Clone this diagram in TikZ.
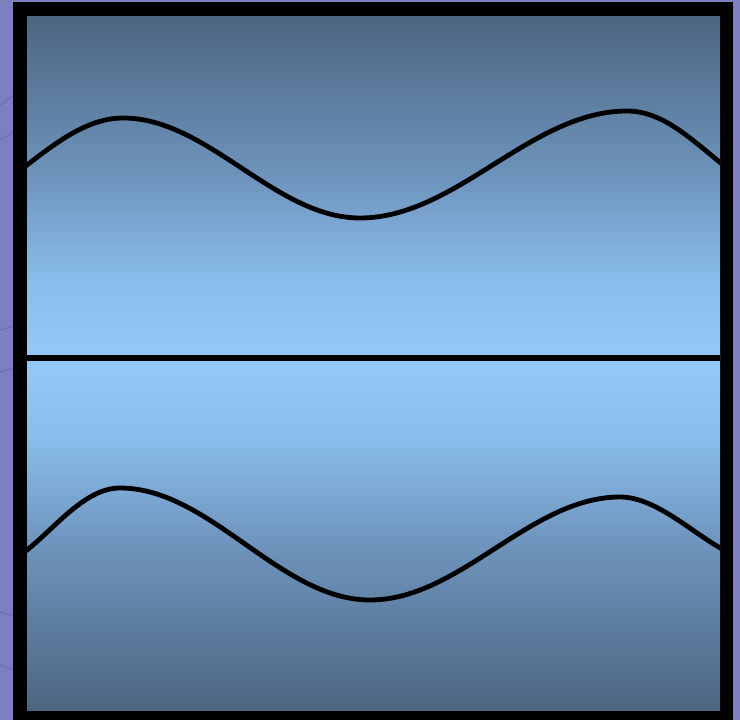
\documentclass[tikz,border=0pt]{standalone}
\definecolor{bgpurple}{HTML}{7C80BF}
\definecolor{bgline}{HTML}{6A6CAE}
\definecolor{darkslate}{HTML}{4C6681}
\definecolor{midsky}{HTML}{6F95BE}
\definecolor{palesky}{HTML}{8ABEEC}
\definecolor{lightsky}{HTML}{93C9F8}
\pgfdeclareverticalshading{toppanel}{100bp}{color(0bp)=(lightsky); color(25bp)=(lightsky); color(36bp)=(palesky); color(51bp)=(midsky); color(75bp)=(darkslate); color(100bp)=(darkslate)}
\pgfdeclareverticalshading{bottompanel}{100bp}{color(0bp)=(darkslate); color(25bp)=(darkslate); color(49bp)=(midsky); color(64bp)=(palesky); color(75bp)=(lightsky); color(100bp)=(lightsky)}
\tikzset{
  wave/.style={line width=4.8pt, line join=round, line cap=round, black},
}
\begin{document}
\begin{tikzpicture}[x=1pt,y=-1pt]
\useasboundingbox (0,0) rectangle (740,720);
\fill[bgpurple] (0,0) rectangle (740,720);
% faint background lines
\draw[bgline, line width=1pt] (0,105) -- (14,95);
\draw[bgline, line width=1pt] (0,140) -- (14,132);
\draw[bgline, line width=1pt] (0,330) -- (14,326);
\draw[bgline, line width=1pt] (0,372) -- (14,368);
\draw[bgline, line width=1pt] (0,612) -- (14,616);
\draw[bgline, line width=1pt] (0,665) -- (14,670);
% black frame
\fill[black] (13,2) rectangle (733,720);
% shaded panels
\shade[shading=toppanel] (27,16) rectangle (720,358);
\shade[shading=bottompanel] (27,358) rectangle (720,710);
% divider
\coordinate (ml) at (27,358);
\coordinate (mr) at (720,358);
\draw[line width=5.5pt] (ml) -- (mr);
% top wave
\begin{scope}
\clip (27,16) rectangle (720,358);
\draw[wave] (20,170) .. controls (27,165) and (27,165) .. (27,165)
  .. controls (57,142) and (88,118) .. (123,118)
  .. controls (208,118) and (275,218) .. (360,218)
  .. controls (456,218) and (531,111) .. (627,111)
  .. controls (662,111) and (690,138) .. (722,164);
\end{scope}
% bottom wave
\begin{scope}
\clip (27,358) rectangle (720,710);
\draw[wave] (20,555) .. controls (27,550) and (27,550) .. (27,550)
  .. controls (55,528) and (85,488) .. (120,488)
  .. controls (210,488) and (280,600) .. (370,600)
  .. controls (460,600) and (530,497) .. (620,497)
  .. controls (655,497) and (690,531) .. (722,549);
\end{scope}
\end{tikzpicture}
\end{document}
